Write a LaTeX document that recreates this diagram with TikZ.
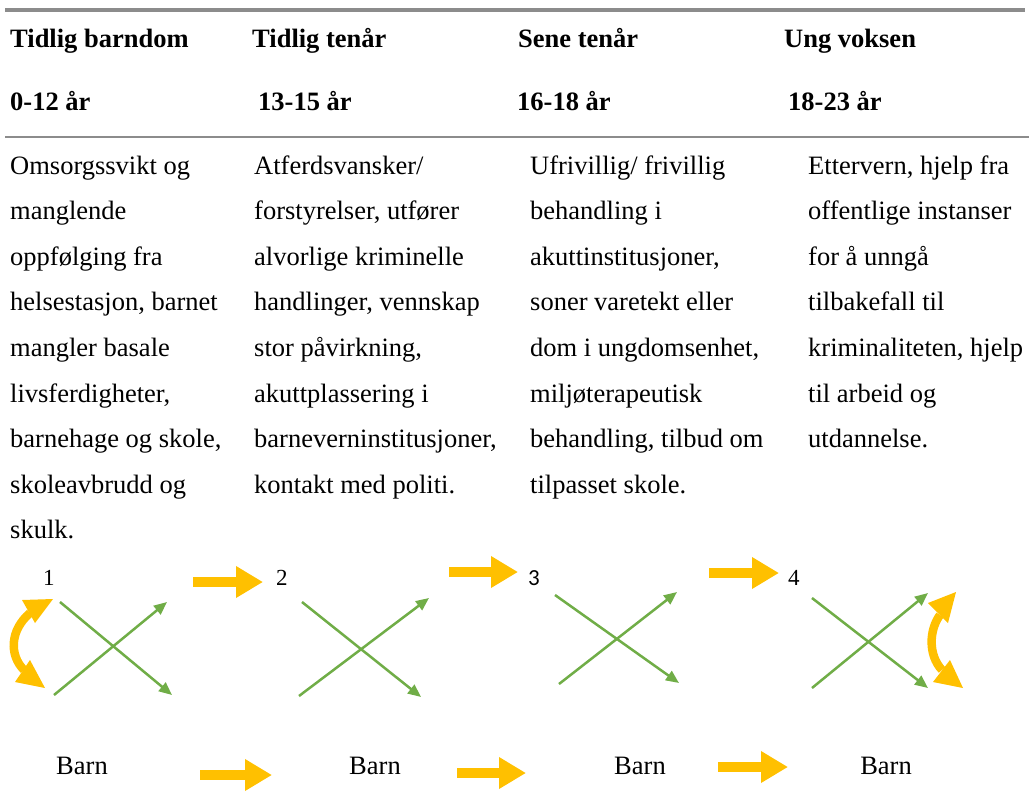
\documentclass[tikz,border=0pt]{standalone}
\usepackage{fontspec}
\setmainfont{Liberation Serif}
\newfontfamily\numsans{Carlito}
\usetikzlibrary{arrows.meta}
\definecolor{rulegray}{HTML}{8C8C8C}
\definecolor{leafgreen}{HTML}{70AD47}
\definecolor{amber}{HTML}{FFC000}
\tikzset{
  head/.style={inner sep=0pt, anchor=base west, font=\fontsize{26.5}{30}\selectfont\bfseries},
  body/.style={inner sep=0pt, anchor=base west, font=\fontsize{26.5}{30}\selectfont},
  numlabel/.style={inner sep=0pt, anchor=base west, font=\fontsize{23}{26}\selectfont},
  barnlabel/.style={inner sep=0pt, anchor=base, font=\fontsize{26.5}{30}\selectfont},
  crossline/.style={draw=leafgreen, line width=2.5pt, -{Triangle[length=13pt,width=11pt]}},
  flowarrow/.style={draw=amber, line width=10pt, -{Triangle[length=27pt,width=30pt]}},
  curveshaft/.style={draw=amber, line width=8.5pt},
  curvehead/.style={fill=amber, draw=none},
}
\begin{document}
\begin{tikzpicture}[x=1pt,y=-1pt]
\useasboundingbox (0,0) rectangle (1029,807);
% rules
\coordinate (r1a) at (5,10); \coordinate (r1b) at (1025,10);
\coordinate (r2a) at (5,137); \coordinate (r2b) at (1029,137);
\draw[rulegray, line width=3.5pt] (r1a) -- (r1b);
\draw[rulegray, line width=1.3pt] (r2a) -- (r2b);
% headers
\node[head] (h1) at (10,47) {Tidlig barndom};
\node[head] (h2) at (252,47) {Tidlig tenår};
\node[head] (h3) at (518,47) {Sene tenår};
\node[head] (h4) at (784,47) {Ung voksen};
\node[head] (a1) at (10,110) {0-12 år};
\node[head] (a2) at (258,110) {13-15 år};
\node[head] (a3) at (517,110) {16-18 år};
\node[head] (a4) at (788,110) {18-23 år};
% body columns
\foreach \t [count=\i from 0] in {Omsorgssvikt og, manglende, oppfølging fra, {helsestasjon, barnet}, mangler basale, {livsferdigheter,}, {barnehage og skole,}, skoleavbrudd og, skulk.}
  \node[body] (ca\i) at (10,{174+45.6*\i}) {\t};
\foreach \t [count=\i from 0] in {Atferdsvansker/, {forstyrelser, utfører}, alvorlige kriminelle, {handlinger, vennskap}, {stor påvirkning,}, akuttplassering i, {barneverninstitusjoner,}, kontakt med politi.}
  \node[body] (cb\i) at (254,{174+45.6*\i}) {\t};
\foreach \t [count=\i from 0] in {Ufrivillig/ frivillig, behandling i, {akuttinstitusjoner,}, soner varetekt eller, {dom i ungdomsenhet,}, miljøterapeutisk, {behandling, tilbud om}, tilpasset skole.}
  \node[body] (cc\i) at (530,{174+45.6*\i}) {\t};
\foreach \t [count=\i from 0] in {{Ettervern, hjelp fra}, offentlige instanser, for å unngå, tilbakefall til, {kriminaliteten, hjelp}, til arbeid og, utdannelse.}
  \node[body] (cd\i) at (808,{174+45.6*\i}) {\t};
% numbers
\node[numlabel] (n1) at (43,585) {1};
\node[numlabel] (n2) at (276,585) {2};
\node[numlabel] (n3) at (528,585) {\numsans 3};
\node[numlabel] (n4) at (788,585) {4};
% top flow arrows
\coordinate (t1s) at (193,582); \coordinate (t1e) at (263,582);
\coordinate (t2s) at (449,572); \coordinate (t2e) at (518,572);
\coordinate (t3s) at (709,573); \coordinate (t3e) at (779,573);
\draw[flowarrow] (t1s) -- (t1e);
\draw[flowarrow] (t2s) -- (t2e);
\draw[flowarrow] (t3s) -- (t3e);
% crosses
\coordinate (x1a) at (60,602);  \coordinate (x1b) at (172,695);
\coordinate (x1c) at (54,695);  \coordinate (x1d) at (167,602);
\coordinate (x2a) at (302,602); \coordinate (x2b) at (421,697);
\coordinate (x2c) at (299,696); \coordinate (x2d) at (429,598);
\coordinate (x3a) at (555,595); \coordinate (x3b) at (679,683);
\coordinate (x3c) at (559,684); \coordinate (x3d) at (677,592);
\coordinate (x4a) at (812,598); \coordinate (x4b) at (928,688);
\coordinate (x4c) at (812,688); \coordinate (x4d) at (928,593);
\foreach \k in {1,2,3,4}{
  \draw[crossline] (x\k a) -- (x\k b);
  \draw[crossline] (x\k c) -- (x\k d);
}
% curved double arrows
\draw[curveshaft] (30,613) .. controls (10,630) and (9,655) .. (24,670);
\fill[curvehead] (22,600) -- (53,599) -- (35,623) -- cycle;
\fill[curvehead] (15,682) -- (45,688) -- (30,660) -- cycle;
\draw[curveshaft] (940,615) .. controls (929,630) and (928,655) .. (942,670);
\fill[curvehead] (928,603) -- (956,592) -- (948,623) -- cycle;
\fill[curvehead] (933,682) -- (963,688) -- (950,660) -- cycle;
% bottom labels and arrows
\node[barnlabel] (b1) at (82,774) {Barn};
\node[barnlabel] (b2) at (375,774) {Barn};
\node[barnlabel] (b3) at (640,774) {Barn};
\node[barnlabel] (b4) at (886,774) {Barn};
\coordinate (f1s) at (200,775); \coordinate (f1e) at (272,775);
\coordinate (f2s) at (457,773); \coordinate (f2e) at (526,773);
\coordinate (f3s) at (718,767); \coordinate (f3e) at (788,767);
\draw[flowarrow] (f1s) -- (f1e);
\draw[flowarrow] (f2s) -- (f2e);
\draw[flowarrow] (f3s) -- (f3e);
\end{tikzpicture}
\end{document}
